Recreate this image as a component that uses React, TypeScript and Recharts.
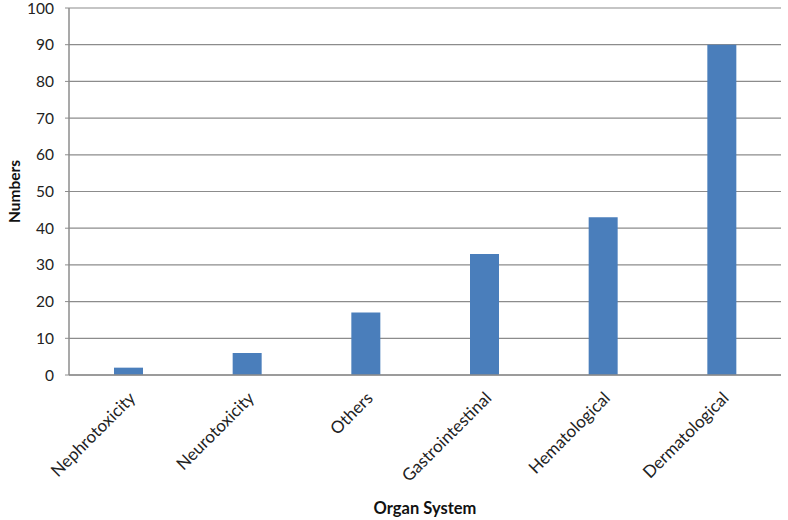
import { BarChart, Bar, XAxis, YAxis, CartesianGrid, Label } from "recharts";

const organs = [
  "Nephrotoxicity",
  "Neurotoxicity",
  "Others",
  "Gastrointestinal",
  "Hematological",
  "Dermatological",
];
const counts = [2, 6, 17, 33, 43, 90];
const yTicks = [0, 10, 20, 30, 40, 50, 60, 70, 80, 90, 100];

const data = organs.map((organ, i) => ({ organ, count: counts[i] }));

const FONT = "Lato, 'Open Sans', sans-serif";

function SlantTick(props: any) {
  const { x, y, payload } = props;
  return (
    <g transform={`translate(${x + 4},${y + 12})`}>
      <text
        x={0}
        y={0}
        dy="0.35em"
        textAnchor="end"
        transform="rotate(-45)"
        fill="#222"
        fontSize={17}
        fontFamily={FONT}
      >
        {payload.value}
      </text>
    </g>
  );
}

export default function App() {
  return (
    <div style={{ position: "fixed", left: 0, top: 0, background: "#fff" }}>
      <BarChart
        width={788}
        height={520}
        data={data}
        margin={{ top: 8, right: 7, left: 0, bottom: 0 }}
        barCategoryGap="0%"
      >
        <CartesianGrid vertical={false} stroke="#8c8c8c" strokeWidth={1.2} />
        <XAxis
          dataKey="organ"
          height={145}
          interval={0}
          tickLine={false}
          axisLine={{ stroke: "#8c8c8c", strokeWidth: 1.5 }}
          tick={<SlantTick />}
        >
          <Label
            value="Organ System"
            position="insideBottom"
            offset={6}
            fill="#111"
            fontSize={16.5}
            fontWeight="bold"
            fontFamily={FONT}
          />
        </XAxis>
        <YAxis
          width={69}
          domain={[0, 100]}
          ticks={yTicks}
          interval={0}
          tickSize={4}
          tickMargin={11}
          tickLine={{ stroke: "#8c8c8c" }}
          axisLine={{ stroke: "#8c8c8c", strokeWidth: 1.5 }}
          tick={{ fill: "#222", fontSize: 15.5, fontFamily: FONT }}
        >
          <Label
            value="Numbers"
            angle={-90}
            position="insideLeft"
            offset={14}
            textAnchor="middle"
            fill="#111"
            fontSize={15.5}
            fontWeight="bold"
            fontFamily={FONT}
          />
        </YAxis>
        <Bar dataKey="count" fill="#4a7ebb" barSize={29} isAnimationActive={false} />
      </BarChart>
    </div>
  );
}
